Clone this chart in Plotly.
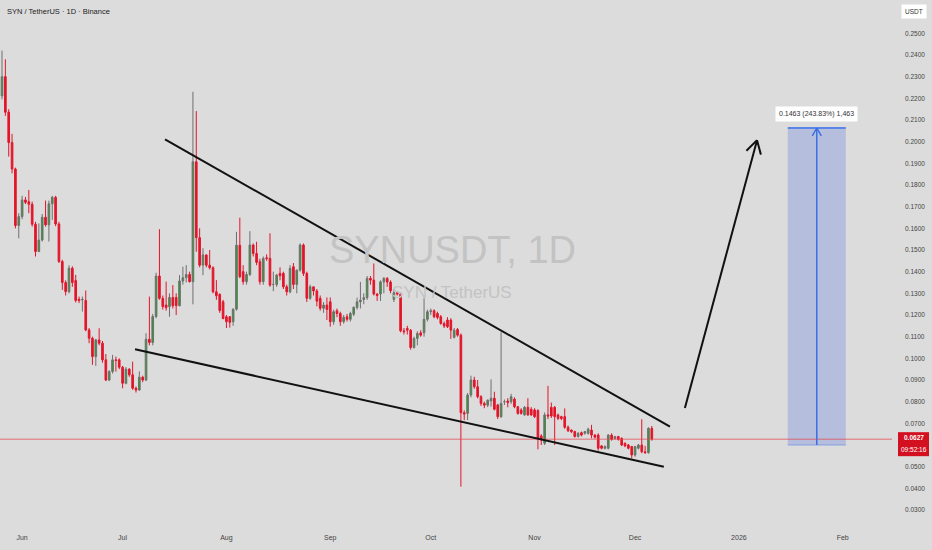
import math
import pandas as pd
import plotly.graph_objects as go

# ---------------- data ----------------
first_day = "2025-05-26"

opens = [
    .2211, .2300, .2136, .1996, .1874, .1613, .1654, .1731, .1723, .1711,
    .1619, .1493, .1546, .1651, .1616, .1713, .1743, .1620, .1447, .1350,
    .1308, .1416, .1359, .1273, .1270, .1267, .1131, .1093, .1008, .1085,
    .1070, .0993, .0900, .0939, .0993, .0993, .0959, .0885, .0950, .0924,
    .0862, .0854, .0913, .0900, .1088, .1073, .1193, .1380, .1277, .1246,
    .1238, .1281, .1281, .1243, .1357, .1372, .1387, .1354, .1907, .1557,
    .1430, .1477, .1430, .1418, .1307, .1295, .1261, .1192, .1192, .1169,
    .1227, .1522, .1400, .1354, .1387, .1523, .1484, .1446, .1354, .1464,
    .1461, .1341, .1341, .1392, .1392, .1330, .1307, .1423, .1341, .1407,
    .1523, .1392, .1277, .1330, .1311, .1277, .1231, .1246, .1261, .1169,
    .1220, .1207, .1169, .1192, .1180, .1204, .1235, .1261, .1272, .1280,
    .1369, .1361, .1297, .1297, .1353, .1369, .1352, .1272, .1303, .1297,
    .1127, .1138, .1130, .1050, .1092, .1118, .1118, .1180, .1215, .1220,
    .1207, .1192, .1161, .1177, .1177, .1097, .1133, .1107, .0749, .0746,
    .0831, .0900, .0869, .0823, .0792, .0784, .0803, .0816, .0785, .0731,
    .0800, .0803, .0800, .0812, .0777, .0762, .0739, .0774, .0765, .0762,
    .0759, .0642, .0608, .0739, .0774, .0774, .0739, .0731, .0731, .0682,
    .0669, .0662, .0639, .0657, .0654, .0654, .0669, .0646, .0646, .0596,
    .0585, .0585, .0646, .0630, .0639, .0631, .0608, .0600, .0593, .0554,
    .0585, .0600, .0569, .0565, .0677,
]
highs = [
    .2420, .2380, .2150, .2036, .1880, .1670, .1750, .1745, .1777, .1723,
    .1630, .1623, .1666, .1728, .1728, .1750, .1750, .1630, .1455, .1360,
    .1430, .1425, .1385, .1285, .1285, .1313, .1140, .1100, .1090, .1139,
    .1080, .1020, .0945, .1016, .1008, .1000, .0965, .0960, .0955, .0985,
    .0870, .0940, .0920, .1116, .1285, .1205, .1395, .1596, .1290, .1354,
    .1300, .1338, .1300, .1384, .1423, .1430, .1400, .2230, .2141, .1600,
    .1508, .1480, .1500, .1425, .1361, .1300, .1270, .1200, .1195, .1230,
    .1584, .1649, .1430, .1400, .1587, .1530, .1538, .1460, .1470, .1480,
    .1577, .1400, .1390, .1420, .1400, .1340, .1430, .1440, .1410, .1530,
    .1530, .1400, .1340, .1330, .1320, .1290, .1260, .1281, .1281, .1225,
    .1230, .1215, .1200, .1205, .1215, .1240, .1280, .1353, .1300, .1380,
    .1380, .1438, .1300, .1360, .1375, .1375, .1360, .1320, .1310, .1300,
    .1140, .1150, .1135, .1100, .1125, .1130, .1277, .1225, .1230, .1226,
    .1215, .1200, .1170, .1190, .1185, .1140, .1140, .1115, .0760, .0840,
    .0920, .0915, .0900, .0830, .0800, .0810, .0903, .0846, .0790, .1120,
    .0810, .0816, .0836, .0820, .0780, .0770, .0780, .0816, .0775, .0770,
    .0765, .0650, .0750, .0873, .0796, .0780, .0745, .0735, .0769, .0690,
    .0672, .0666, .0660, .0662, .0665, .0680, .0693, .0650, .0654, .0600,
    .0598, .0650, .0654, .0642, .0642, .0635, .0612, .0605, .0596, .0596,
    .0605, .0719, .0596, .0682, .0688,
]
lows = [
    .2195, .2119, .1931, .1854, .1600, .1554, .1642, .1712, .1670, .1608,
    .1470, .1490, .1539, .1608, .1539, .1639, .1610, .1440, .1316, .1290,
    .1300, .1330, .1258, .1255, .1216, .1125, .1070, .0970, .0965, .1060,
    .0980, .0895, .0895, .0930, .0939, .0950, .0862, .0880, .0915, .0855,
    .0842, .0850, .0890, .0895, .1060, .1060, .1185, .1270, .1225, .1220,
    .1192, .1230, .1200, .1240, .1340, .1350, .1350, .1249, .1492, .1420,
    .1384, .1420, .1410, .1300, .1270, .1210, .1180, .1140, .1142, .1150,
    .1220, .1370, .1340, .1340, .1380, .1470, .1430, .1340, .1340, .1450,
    .1330, .1310, .1330, .1360, .1320, .1290, .1300, .1320, .1300, .1400,
    .1380, .1260, .1270, .1290, .1240, .1220, .1210, .1177, .1146, .1155,
    .1190, .1150, .1160, .1170, .1170, .1195, .1225, .1230, .1250, .1270,
    .1340, .1290, .1265, .1265, .1300, .1330, .1300, .1260, .1290, .1120,
    .1110, .1110, .1040, .1045, .1060, .1100, .1100, .1170, .1200, .1185,
    .1180, .1155, .1140, .1140, .1090, .1092, .1100, .0408, .0715, .0715,
    .0820, .0860, .0815, .0780, .0770, .0775, .0777, .0760, .0720, .0725,
    .0785, .0774, .0790, .0770, .0740, .0740, .0735, .0735, .0735, .0725,
    .0580, .0600, .0600, .0720, .0725, .0600, .0715, .0715, .0675, .0660,
    .0655, .0635, .0635, .0640, .0648, .0648, .0631, .0630, .0574, .0580,
    .0580, .0580, .0620, .0625, .0620, .0595, .0590, .0580, .0539, .0546,
    .0580, .0562, .0559, .0560, .0620,
]
closes = [
    .2300, .2136, .1996, .1874, .1613, .1654, .1731, .1720, .1711, .1619,
    .1493, .1546, .1651, .1616, .1713, .1743, .1620, .1447, .1350, .1308,
    .1416, .1350, .1267, .1267, .1272, .1131, .1093, .1008, .1085, .1070,
    .0993, .0900, .0939, .0993, .0990, .0959, .0885, .0950, .0924, .0862,
    .0854, .0913, .0900, .1088, .1073, .1193, .1380, .1277, .1239, .1234,
    .1281, .1243, .1243, .1357, .1372, .1387, .1354, .1907, .1557, .1430,
    .1477, .1430, .1418, .1307, .1289, .1221, .1184, .1169, .1166, .1227,
    .1522, .1377, .1354, .1387, .1523, .1484, .1443, .1354, .1461, .1461,
    .1338, .1341, .1384, .1381, .1330, .1307, .1415, .1341, .1407, .1523,
    .1392, .1277, .1330, .1311, .1264, .1231, .1246, .1226, .1169, .1215,
    .1207, .1169, .1189, .1180, .1207, .1235, .1261, .1269, .1280, .1369,
    .1361, .1297, .1290, .1353, .1369, .1352, .1312, .1303, .1297, .1127,
    .1123, .1130, .1050, .1092, .1115, .1107, .1180, .1215, .1220, .1192,
    .1189, .1161, .1149, .1146, .1130, .1130, .1107, .0749, .0743, .0831,
    .0900, .0869, .0823, .0792, .0784, .0807, .0816, .0765, .0731, .0792,
    .0800, .0796, .0823, .0777, .0746, .0746, .0774, .0739, .0739, .0731,
    .0631, .0623, .0739, .0734, .0734, .0731, .0723, .0722, .0682, .0666,
    .0662, .0639, .0654, .0646, .0662, .0673, .0646, .0636, .0585, .0585,
    .0593, .0646, .0626, .0639, .0626, .0600, .0596, .0585, .0554, .0593,
    .0600, .0569, .0565, .0677, .0627,
]

month_ticks = ["2025-06-01", "2025-07-01", "2025-08-01", "2025-09-01", "2025-10-01",
               "2025-11-01", "2025-12-01", "2026-01-01", "2026-02-01"]
month_labels = ["Jun", "Jul", "Aug", "Sep", "Oct", "Nov", "Dec", "2026", "Feb"]
price_ticks = [0.03, 0.04, 0.05, 0.07, 0.08, 0.09, 0.10, 0.11, 0.12, 0.13, 0.14,
               0.15, 0.16, 0.17, 0.18, 0.19, 0.20, 0.21, 0.22, 0.23, 0.24, 0.25]  # 0.06 hidden under the price tag
price_labels = [f"{v:.4f}" for v in price_ticks]

last_price = 0.0627
countdown = "09:52:16"

# drawings (date, price)
upper_line = [("2025-07-13 16:00", 0.2011), ("2025-12-11 10:00", 0.0685)]
lower_line = [("2025-07-04 17:00", 0.1042), ("2025-12-09 14:00", 0.0500)]
up_arrow = [("2025-12-15 21:00", 0.0771), ("2026-01-06 10:00", 0.2007)]
pos_start, pos_end = "2026-01-15 14:00", "2026-02-01 22:00"
pos_entry, pos_target = 0.0600, 0.2063
pos_label = "0.1463 (243.83%) 1,463"

# ---------------- layout constants ----------------
W, H = 932, 550
ML, MR, MT, MB = 0, 40, 0, 22
PW, PH = W - ML - MR, H - MT - MB
x_range = [pd.Timestamp("2025-05-25 09:36"), pd.Timestamp("2026-02-15 17:00")]
y_range = [0.02171, 0.26537]
BG = "#dcdcdc"
FONT = "Liberation Sans, Arial, sans-serif"

dates = pd.date_range(first_day, periods=len(opens), freq="D")

fig = go.Figure()
fig.add_trace(go.Candlestick(
    x=dates, open=opens, high=highs, low=lows, close=closes,
    increasing=dict(fillcolor="#1fa51f", line=dict(color="#6f6f6f", width=1)),
    decreasing=dict(fillcolor="#e3152a", line=dict(color="#e3152a", width=1)),
    whiskerwidth=0, hoverinfo="skip", showlegend=False,
))

ms_per_px = (x_range[1] - x_range[0]).total_seconds() * 1000 / PW
price_per_px = (y_range[1] - y_range[0]) / PH


def to_px(d, p):
    t = (pd.Timestamp(d) - x_range[0]).total_seconds() * 1000 / ms_per_px
    return t, -(p - y_range[0]) / price_per_px


def from_px(px, py):
    return x_range[0] + pd.Timedelta(milliseconds=px * ms_per_px), y_range[0] - py * price_per_px


def chevron(tail, tip, length, color, width):
    tx, ty = to_px(*tip)
    sx, sy = to_px(*tail)
    dx, dy = sx - tx, sy - ty
    n = math.hypot(dx, dy)
    ux, uy = dx / n, dy / n
    out = []
    for ang in (math.radians(30), math.radians(-30)):
        rx = ux * math.cos(ang) - uy * math.sin(ang)
        ry = ux * math.sin(ang) + uy * math.cos(ang)
        ex, ey = from_px(tx + rx * length, ty + ry * length)
        out.append(dict(type="line", xref="x", yref="y", x0=pd.Timestamp(tip[0]), y0=tip[1],
                        x1=ex, y1=ey, line=dict(color=color, width=width)))
    return out


def price_to_paper(p):
    return (p - y_range[0]) / (y_range[1] - y_range[0])


shapes = []
shapes.append(dict(type="line", xref="paper", yref="y", x0=0, x1=1, y0=last_price, y1=last_price,
                   line=dict(color="rgba(230,70,80,0.75)", width=1)))
for (a, b) in (upper_line, lower_line, up_arrow):
    shapes.append(dict(type="line", xref="x", yref="y", x0=a[0], y0=a[1], x1=b[0], y1=b[1],
                       line=dict(color="#111111", width=2)))
shapes += chevron(up_arrow[0], up_arrow[1], 15, "#111111", 2)

shapes.append(dict(type="rect", xref="x", yref="y", x0=pos_start, x1=pos_end, y0=pos_entry, y1=pos_target,
                   fillcolor="rgba(85,115,225,0.28)", line=dict(width=0), layer="below"))
shapes.append(dict(type="line", xref="x", yref="y", x0=pos_start, x1=pos_end, y0=pos_target, y1=pos_target,
                   line=dict(color="#5a86ea", width=2)))
shapes.append(dict(type="line", xref="x", yref="y", x0=pos_start, x1=pos_end, y0=pos_entry, y1=pos_entry,
                   line=dict(color="rgba(90,130,230,0.6)", width=1)))
mid = pd.Timestamp(pos_start) + (pd.Timestamp(pos_end) - pd.Timestamp(pos_start)) / 2
shapes.append(dict(type="line", xref="x", yref="y", x0=mid, x1=mid, y0=pos_entry, y1=pos_target,
                   line=dict(color="#3b6fe3", width=1.5)))
shapes += chevron((mid, pos_entry), (mid, pos_target), 9, "#3b6fe3", 1.5)

# last-price tag on the price scale (red box, two text rows)
tag_top = price_to_paper(last_price) + 7 / PH
tag_bot = price_to_paper(last_price) - 17 / PH
shapes.append(dict(type="rect", xref="paper", yref="paper", x0=898 / PW, x1=929 / PW,
                   y0=tag_bot, y1=tag_top, fillcolor="#d3101f", line=dict(width=0)))

annotations = [
    dict(xref="paper", yref="paper", x=5 / PW, y=1 - 11 / PH, xanchor="left", yanchor="middle",
         text="SYN / TetherUS · 1D · Binance", showarrow=False,
         font=dict(size=7.5, color="#222222", family=FONT)),
    dict(xref="paper", yref="paper", x=452 / PW, y=1 - 250 / PH, xanchor="center", yanchor="middle",
         text="SYNUSDT, 1D", showarrow=False, font=dict(size=38, color="#c3c3c3", family=FONT)),
    dict(xref="paper", yref="paper", x=452 / PW, y=1 - 292 / PH, xanchor="center", yanchor="middle",
         text="SYN / TetherUS", showarrow=False, font=dict(size=17, color="#c3c3c3", family=FONT)),
    dict(xref="x", yref="y", x=mid, y=pos_target, yshift=14, xanchor="center", yanchor="middle",
         text=pos_label, showarrow=False, bgcolor="#ffffff", borderpad=3,
         font=dict(size=7, color="#333333", family=FONT)),
    dict(xref="paper", yref="paper", x=914 / PW, y=1 - 12 / PH, xanchor="center", yanchor="middle",
         text="USDT", showarrow=False, bgcolor="#ffffff", borderpad=3,
         font=dict(size=6.5, color="#333333", family=FONT)),
    dict(xref="paper", yref="paper", x=913.5 / PW, y=price_to_paper(last_price) + 2 / PH,
         xanchor="center", yanchor="middle", text=f"<b>{last_price:.4f}</b>", showarrow=False,
         borderpad=0, font=dict(size=6.5, color="#ffffff", family=FONT)),
    dict(xref="paper", yref="paper", x=913.5 / PW, y=price_to_paper(last_price) - 10 / PH,
         xanchor="center", yanchor="middle", text=countdown, showarrow=False,
         borderpad=0, font=dict(size=6.5, color="#ffffff", family=FONT)),
]

fig.update_layout(
    width=W, height=H, margin=dict(l=ML, r=MR, t=MT, b=MB),
    paper_bgcolor=BG, plot_bgcolor=BG, showlegend=False, hovermode=False,
    font=dict(family=FONT, color="#444444"),
    shapes=shapes, annotations=annotations,
    xaxis=dict(type="date", range=x_range, rangeslider=dict(visible=False), showgrid=False,
               zeroline=False, showline=False, tickmode="array", tickvals=month_ticks,
               ticktext=month_labels, tickfont=dict(size=7, color="#444444"), ticks="",
               ticklabelstandoff=4),
    yaxis=dict(side="right", range=y_range, showgrid=False, zeroline=False, showline=False,
               tickmode="array", tickvals=price_ticks, ticktext=price_labels,
               tickfont=dict(size=6.5, color="#444444"), ticks="", ticklabelstandoff=12),
)

fig.write_html("out.html", config={"displayModeBar": False},
               post_script="document.body.style.margin='0px';document.body.style.background='#dcdcdc';")
